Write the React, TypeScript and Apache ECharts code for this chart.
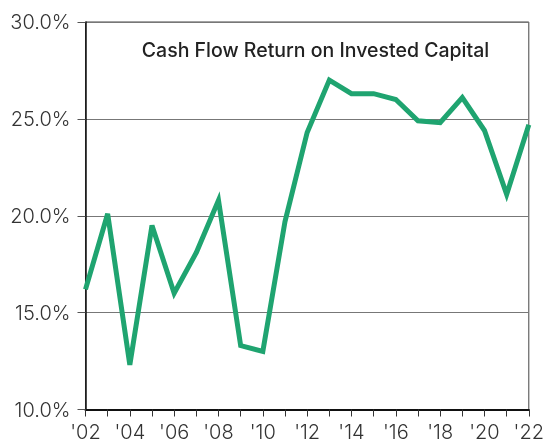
import React, { useEffect, useRef } from "react";
import * as echarts from "echarts";

const years = ["'02","'03","'04","'05","'06","'07","'08","'09","'10","'11","'12","'13","'14","'15","'16","'17","'18","'19","'20","'21","'22"];
const cfroic = [16.2, 20.1, 12.3, 19.5, 16.0, 18.1, 20.8, 13.3, 13.0, 19.7, 24.3, 27.0, 26.3, 26.3, 26.0, 24.9, 24.8, 26.1, 24.4, 21.1, 24.7];
const title = "Cash Flow Return on Invested Capital";

export default function App() {
  const ref = useRef<HTMLDivElement>(null);
  useEffect(() => {
    const chart = echarts.init(ref.current!, null, { renderer: "svg" });
    chart.setOption({
      animation: false,
      title: {
        text: title,
        left: 310.5,
        top: 35,
        textAlign: "center",
        textStyle: { fontFamily: "Inter", fontSize: 19.5, fontWeight: 500, color: "#222" },
      },
      grid: {
        left: 85.5, right: 13, top: 22, bottom: 33.5,
        show: true, borderColor: "#444", borderWidth: 1, backgroundColor: "transparent",
      },
      xAxis: {
        type: "category",
        data: years,
        boundaryGap: false,
        axisLine: { lineStyle: { color: "#111", width: 2 } },
        axisTick: { show: true, interval: 0, length: 7, lineStyle: { color: "#333", width: 1 } },
        axisLabel: { interval: 1, fontFamily: "Inter", fontWeight: 300, fontSize: 20, color: "#333", margin: 12 },
      },
      yAxis: {
        type: "value",
        min: 10, max: 30, interval: 5,
        axisLine: { show: true, lineStyle: { color: "#111", width: 1.5 } },
        axisTick: { show: true, length: 8, lineStyle: { color: "#555", width: 1 } },
        axisLabel: { formatter: (v: number) => v.toFixed(1) + "%", fontFamily: "Inter", fontWeight: 300, fontSize: 20, color: "#333", margin: 15 },
        splitLine: { show: true, lineStyle: { color: "#777", width: 1.2 } },
      },
      series: [{
        type: "line",
        data: cfroic,
        symbol: "none",
        lineStyle: { color: "#1fa470", width: 5, join: "miter" },
      }],
    });
    return () => chart.dispose();
  }, []);
  return <div ref={ref} style={{ position: "fixed", left: 0, top: 0, width: 547, height: 443 }} />;
}
